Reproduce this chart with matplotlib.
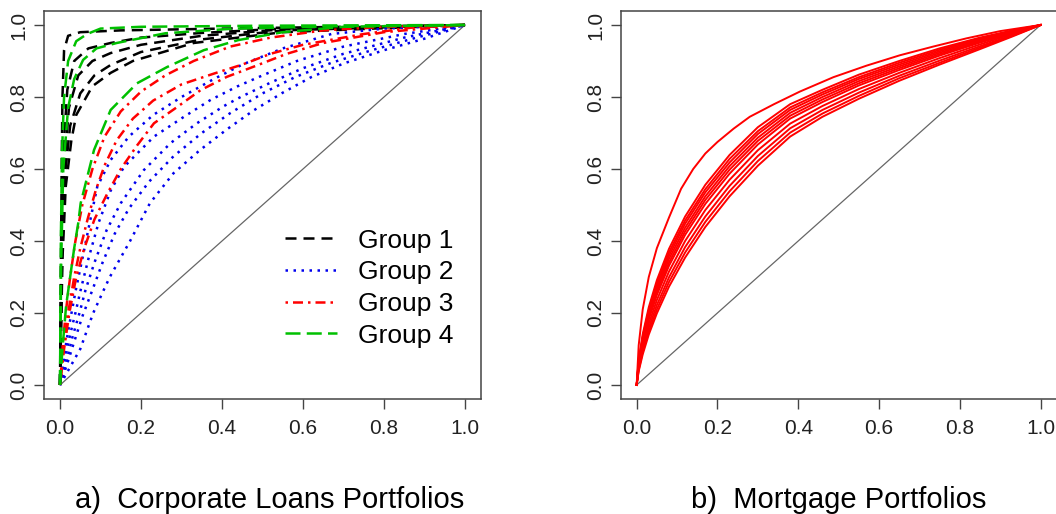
import matplotlib.pyplot as plt

plt.rcParams['font.family'] = ['Liberation Sans', 'DejaVu Sans']

# ---------------- a) corporate loans portfolios (values read off the picture) ----------------
# group 1 - black dashed
g1_x = [
    [0, 0.002, 0.004, 0.006, 0.01, 0.02, 0.05, 0.15, 0.4, 0.7, 1],
    [0, 0.003, 0.008, 0.018, 0.035, 0.07, 0.125, 0.2, 0.35, 0.55, 1],
    [0, 0.004, 0.01, 0.022, 0.045, 0.08, 0.125, 0.2, 0.35, 0.55, 1],
    [0, 0.005, 0.012, 0.025, 0.05, 0.085, 0.125, 0.2, 0.35, 0.55, 1],
    [0, 0.006, 0.014, 0.028, 0.04, 0.08, 0.125, 0.18, 0.33, 0.55, 1],
]
g1_y = [
    [0, 0.3, 0.6, 0.8, 0.93, 0.97, 0.98, 0.985, 0.99, 0.995, 1],
    [0, 0.35, 0.65, 0.82, 0.9, 0.935, 0.95, 0.965, 0.978, 0.99, 1],
    [0, 0.35, 0.6, 0.77, 0.86, 0.9, 0.922, 0.945, 0.97, 0.988, 1],
    [0, 0.35, 0.58, 0.72, 0.81, 0.86, 0.889, 0.925, 0.96, 0.985, 1],
    [0, 0.35, 0.55, 0.68, 0.75, 0.83, 0.867, 0.9, 0.95, 0.98, 1],
]

# group 2 - blue dotted
g2_x = [
    [0, 0.01, 0.02, 0.03, 0.039, 0.055, 0.075, 0.092, 0.125, 0.17, 0.23, 0.3, 0.38, 0.45, 0.55, 0.67, 0.8, 1],
    [0, 0.012, 0.025, 0.038, 0.051, 0.07, 0.095, 0.125, 0.158, 0.232, 0.306, 0.372, 0.437, 0.5, 0.585, 0.7, 0.85, 1],
    [0, 0.015, 0.03, 0.048, 0.063, 0.085, 0.115, 0.15, 0.207, 0.273, 0.338, 0.405, 0.446, 0.52, 0.6, 0.7, 0.85, 1],
    [0, 0.018, 0.035, 0.055, 0.08, 0.105, 0.135, 0.17, 0.22, 0.28, 0.35, 0.42, 0.5, 0.58, 0.67, 0.77, 0.88, 1],
    [0, 0.025, 0.05, 0.066, 0.082, 0.108, 0.123, 0.173, 0.222, 0.28, 0.346, 0.412, 0.477, 0.55, 0.62, 0.7, 0.8, 0.9, 1],
]
g2_y = [
    [0, 0.08, 0.15, 0.21, 0.264, 0.35, 0.46, 0.551, 0.625, 0.69, 0.75, 0.8, 0.85, 0.89, 0.935, 0.975, 0.99, 1],
    [0, 0.07, 0.14, 0.2, 0.264, 0.35, 0.45, 0.54, 0.606, 0.69, 0.745, 0.792, 0.829, 0.86, 0.9, 0.94, 0.975, 1],
    [0, 0.06, 0.13, 0.2, 0.264, 0.34, 0.43, 0.505, 0.597, 0.672, 0.727, 0.775, 0.8, 0.84, 0.88, 0.92, 0.965, 1],
    [0, 0.06, 0.12, 0.19, 0.264, 0.34, 0.42, 0.49, 0.565, 0.635, 0.7, 0.755, 0.81, 0.855, 0.895, 0.93, 0.965, 1],
    [0, 0.05, 0.1, 0.15, 0.2, 0.264, 0.3, 0.4, 0.505, 0.588, 0.653, 0.71, 0.762, 0.812, 0.855, 0.893, 0.93, 0.962, 1],
]

# group 3 - red dot-dash
g3_x = [
    [0, 0.006, 0.014, 0.025, 0.038, 0.055, 0.08, 0.11, 0.15, 0.2, 0.26, 0.33, 0.42, 0.52, 0.65, 0.8, 1],
    [0, 0.008, 0.02, 0.035, 0.05, 0.068, 0.088, 0.11, 0.14, 0.18, 0.23, 0.3, 0.38, 0.45, 0.52, 0.6, 0.75, 0.87, 1],
    [0, 0.01, 0.023, 0.04, 0.06, 0.085, 0.116, 0.15, 0.19, 0.232, 0.289, 0.347, 0.412, 0.48, 0.56, 0.65, 0.8, 1],
]
g3_y = [
    [0, 0.1, 0.2, 0.3, 0.4, 0.5, 0.6, 0.69, 0.76, 0.815, 0.86, 0.9, 0.94, 0.965, 0.985, 0.995, 1],
    [0, 0.1, 0.2, 0.3, 0.38, 0.46, 0.54, 0.61, 0.68, 0.74, 0.79, 0.835, 0.865, 0.89, 0.92, 0.945, 0.975, 0.993, 1],
    [0, 0.1, 0.2, 0.3, 0.38, 0.46, 0.53, 0.6, 0.665, 0.727, 0.772, 0.819, 0.856, 0.885, 0.92, 0.95, 0.98, 1],
]

# group 4 - green long dash
g4_x = [
    [0, 0.002, 0.005, 0.01, 0.02, 0.04, 0.067, 0.1, 0.2, 0.5, 1],
    [0, 0.003, 0.008, 0.02, 0.035, 0.057, 0.09, 0.14, 0.26, 0.43, 0.7, 1],
    [0, 0.006, 0.015, 0.025, 0.035, 0.045, 0.051, 0.084, 0.125, 0.19, 0.264, 0.355, 0.44, 0.55, 0.7, 1],
]
g4_y = [
    [0, 0.4, 0.65, 0.8, 0.9, 0.955, 0.975, 0.99, 0.995, 0.998, 1],
    [0, 0.35, 0.6, 0.77, 0.85, 0.903, 0.935, 0.95, 0.977, 0.99, 0.997, 1],
    [0, 0.1, 0.22, 0.3, 0.38, 0.45, 0.505, 0.653, 0.764, 0.838, 0.883, 0.93, 0.958, 0.98, 0.995, 1],
]

group_labels = ['Group 1', 'Group 2', 'Group 3', 'Group 4']

# ---------------- b) mortgage portfolios ----------------
# the one curve that sits above the others
mort_top_x = [0, 0.005, 0.015, 0.03, 0.05, 0.08, 0.11, 0.14, 0.17, 0.2, 0.24, 0.28, 0.34, 0.404,
              0.487, 0.569, 0.652, 0.734, 0.817, 0.9, 1]
mort_top_y = [0, 0.11, 0.21, 0.3, 0.38, 0.465, 0.545, 0.6, 0.643, 0.675, 0.712, 0.745, 0.78, 0.815,
              0.855, 0.887, 0.916, 0.94, 0.963, 0.983, 1]
# the bundle underneath
mort_x = [0, 0.005, 0.015, 0.03, 0.05, 0.08, 0.12, 0.17, 0.23, 0.3, 0.38, 0.46, 0.55, 0.65, 0.75, 0.85, 0.93, 1.0]
mort_y = [
    [0, 0.069, 0.141, 0.216, 0.291, 0.378, 0.468, 0.556, 0.639, 0.716, 0.78, 0.82, 0.862, 0.9, 0.935, 0.965, 0.985, 1],
    [0, 0.066, 0.135, 0.208, 0.282, 0.368, 0.457, 0.544, 0.628, 0.705, 0.771, 0.813, 0.855, 0.895, 0.931, 0.962, 0.983, 1],
    [0, 0.063, 0.131, 0.202, 0.274, 0.359, 0.448, 0.535, 0.618, 0.697, 0.764, 0.807, 0.85, 0.89, 0.927, 0.959, 0.982, 1],
    [0, 0.061, 0.126, 0.196, 0.266, 0.35, 0.437, 0.524, 0.608, 0.687, 0.756, 0.8, 0.844, 0.885, 0.923, 0.956, 0.98, 1],
    [0, 0.058, 0.121, 0.189, 0.258, 0.34, 0.427, 0.514, 0.598, 0.678, 0.748, 0.793, 0.838, 0.88, 0.919, 0.953, 0.979, 1],
    [0, 0.055, 0.116, 0.182, 0.25, 0.331, 0.417, 0.503, 0.587, 0.668, 0.74, 0.786, 0.832, 0.875, 0.915, 0.951, 0.977, 1],
    [0, 0.05, 0.107, 0.17, 0.236, 0.315, 0.4, 0.486, 0.57, 0.652, 0.726, 0.775, 0.822, 0.867, 0.908, 0.946, 0.975, 1],
    [0, 0.046, 0.099, 0.159, 0.222, 0.299, 0.383, 0.468, 0.553, 0.636, 0.713, 0.764, 0.812, 0.859, 0.901, 0.941, 0.972, 1],
    [0, 0.042, 0.092, 0.149, 0.21, 0.286, 0.368, 0.453, 0.538, 0.622, 0.701, 0.754, 0.803, 0.852, 0.895, 0.937, 0.97, 1],
    [0, 0.038, 0.085, 0.14, 0.199, 0.273, 0.354, 0.439, 0.524, 0.609, 0.69, 0.745, 0.795, 0.845, 0.89, 0.933, 0.968, 1],
]

diag = [0, 1]
ticks = [0, 0.2, 0.4, 0.6, 0.8, 1.0]
tick_labels = ['0.0', '0.2', '0.4', '0.6', '0.8', '1.0']

# R line types, scaled by line width
lw = 1.8
styles = [
    ('black', (0, (4.4, 2.8))),          # lty 2
    ('#0000ee', (0, (1, 2.2))),          # lty 3
    ('#ff0000', (0, (1, 2, 4, 2))),      # lty 4
    ('#00c000', (0, (6, 2.5))),          # lty 5
]


def r_axes(ax):
    ax.set_xlim(-0.04, 1.04)
    ax.set_ylim(-0.04, 1.04)
    ax.set_xticks(ticks)
    ax.set_xticklabels(tick_labels)
    ax.set_yticks(ticks)
    ax.set_yticklabels(tick_labels, rotation=90, va='center')
    for s in ax.spines.values():
        s.set_color('#444444')
        s.set_linewidth(1.1)
    ax.tick_params(direction='out', length=7, width=1, color='#444444',
                   labelsize=15, labelcolor='#222222')
    ax.tick_params(axis='x', pad=7)
    ax.tick_params(axis='y', pad=4)
    ax.plot(diag, diag, color='#666666', lw=0.9, zorder=1)


fig = plt.figure(figsize=(10.56, 5.14), dpi=100)
ax1 = fig.add_axes([0.0415, 0.2230, 0.4142, 0.7564])
ax2 = fig.add_axes([0.5876, 0.2230, 0.4131, 0.7564])

r_axes(ax1)
groups = [(g1_x, g1_y), (g2_x, g2_y), (g3_x, g3_y), (g4_x, g4_y)]
handles = []
for (gx, gy), (col, ls), lab in zip(groups, styles, group_labels):
    for i in range(len(gx)):
        line, = ax1.plot(gx[i], gy[i], color=col, linestyle=ls, lw=lw)
        if i == 0:
            handles.append(line)
ax1.legend(handles, group_labels, loc='upper left', bbox_to_anchor=(0.551, 0.439),
           frameon=False, fontsize=19, handlelength=1.97, handletextpad=0.8,
           labelspacing=0.29, borderpad=0, borderaxespad=0)

r_axes(ax2)
ax2.plot(mort_top_x, mort_top_y, color='#ff0000', lw=1.4)
for y in mort_y:
    ax2.plot(mort_x, y, color='#ff0000', lw=1.4)

fig.text(0.2552, 0.0117, 'a)  Corporate Loans Portfolios', ha='center', va='baseline', fontsize=21)
fig.text(0.794, 0.0117, 'b)  Mortgage Portfolios', ha='center', va='baseline', fontsize=21)

fig.savefig('out.png', dpi=100)
